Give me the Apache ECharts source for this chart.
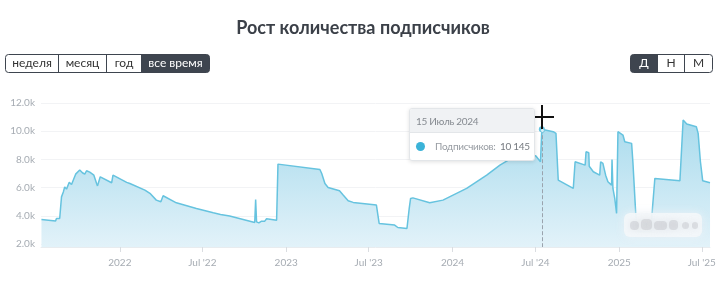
<!DOCTYPE html>
<html><head><meta charset="utf-8">
<script src="https://cdn.jsdelivr.net/npm/echarts@6/dist/echarts.min.js"></script>
<style>html,body{margin:0;padding:0;background:#fff}#c{width:726px;height:287px}</style>
</head><body><div id="c"></div>
<script>
var dates = ['2021-07-13','2021-08-13','2021-08-15','2021-08-22','2021-08-26','2021-08-30','2021-09-02','2021-09-06','2021-09-12','2021-09-17','2021-09-20','2021-09-26','2021-10-05','2021-10-11','2021-10-16','2021-10-20','2021-10-27','2021-11-05','2021-11-11','2021-11-13','2021-11-19','2021-12-14','2021-12-17','2022-01-16','2022-01-23','2022-02-25','2022-03-08','2022-03-22','2022-04-01','2022-04-06','2022-05-05','2022-06-18','2022-07-25','2022-08-10','2022-08-30','2022-10-24','2022-10-26','2022-10-28','2022-11-02','2022-11-08','2022-11-15','2022-11-19','2022-12-11','2022-12-14','2023-03-16','2023-03-20','2023-03-27','2023-04-03','2023-04-28','2023-05-06','2023-05-17','2023-05-28','2023-07-18','2023-07-24','2023-08-27','2023-09-03','2023-09-23','2023-09-28','2023-10-01','2023-10-06','2023-11-12','2023-12-11','2024-02-01','2024-03-16','2024-04-14','2024-05-21','2024-06-08','2024-07-02','2024-07-12','2024-07-15','2024-08-09','2024-08-15','2024-08-20','2024-09-22','2024-09-26','2024-10-18','2024-10-20','2024-10-26','2024-10-27','2024-11-05','2024-11-19','2024-11-21','2024-11-26','2024-12-02','2024-12-07','2024-12-15','2024-12-16','2024-12-18','2024-12-22','2024-12-26','2024-12-28','2024-12-29','2025-01-09','2025-01-13','2025-01-28','2025-01-31','2025-02-06','2025-02-10','2025-03-11','2025-03-15','2025-03-18','2025-03-20','2025-05-14','2025-05-18','2025-05-21','2025-05-29','2025-06-19','2025-06-23','2025-06-28','2025-07-03','2025-07-19'];
var subscribers = [3750,3650,3820,3820,5350,5700,6060,5900,6380,6230,6300,6960,7250,7060,6960,7200,7100,6890,6300,6130,6770,6350,6890,6380,6300,5830,5600,5120,5000,5430,4930,4530,4220,4100,3990,3540,5170,3580,3510,3630,3630,3800,3700,7670,7290,7010,6300,6020,5780,5480,5070,4960,4770,3470,3350,3180,3110,4530,5240,5280,4930,5120,5950,6890,7600,8310,8500,8250,7840,10145,9970,9850,6540,5950,7840,7600,8550,8480,7520,7130,6890,7840,7720,6890,6420,6180,8000,5950,5240,4180,4060,9970,9730,9260,9140,7720,4180,2900,2900,4650,4650,6660,6490,6490,10790,10510,10320,9850,7840,6490,6350];
var tickDates = ['2022-01-01','2022-07-01','2023-01-01','2023-07-01','2024-01-01','2024-07-01','2025-01-01','2025-07-01'];
var tickLabels = ['2022',"Jul '22",'2023',"Jul '23",'2024',"Jul '24",'2025',"Jul '25"];
var yTicks = [2000,4000,6000,8000,10000,12000];
var periodButtons = ['неделя','месяц','год','все время'];
var scaleButtons = ['Д','Н','М'];
var seriesName = 'Подписчиков';
var tipDate = '2024-07-15';
var tipLabel = '15 Июль 2024';
var xStart = '2021-07-12', xEnd = '2025-07-19';
var yMin = 1800, yMax = 12000;

var chart = echarts.init(document.getElementById('c'), null, {renderer:'canvas'});
function ts(s){ return Date.UTC(+s.slice(0,4), +s.slice(5,7)-1, +s.slice(8,10)); }
var tickTs = tickDates.map(ts);
var data = dates.map(function(d,i){ return [ts(d), subscribers[i]]; });
var tipIdx = dates.indexOf(tipDate);
var FONT = 'Lato, "Open Sans", sans-serif';

function buttonGroup(labels, x, y, widths, active){
  var els = [], cx = x, total = widths.reduce(function(a,b){return a+b;},0);
  els.push({type:'rect', shape:{x:x, y:y, width:total, height:18, r:3}, style:{fill:'#fff', stroke:'#3e454f', lineWidth:1}});
  labels.forEach(function(l,i){
    var w = widths[i];
    if (i === active) {
      var r = [0,0,0,0];
      if (i === 0) { r[0]=3; r[3]=3; }
      if (i === labels.length-1) { r[1]=3; r[2]=3; }
      els.push({type:'rect', shape:{x:cx, y:y, width:w, height:18, r:r}, style:{fill:'#3e454f'}});
    }
    if (i > 0) els.push({type:'line', shape:{x1:cx, y1:y, x2:cx, y2:y+18}, style:{stroke:'#3e454f', lineWidth:1}});
    els.push({type:'text', x:cx+w/2, y:y+9, style:{text:l, fill: i===active?'#fff':'#333', font:'12px '+FONT, align:'center', verticalAlign:'middle'}});
    cx += w;
  });
  return els;
}

var graphics = [];
graphics = graphics.concat(buttonGroup(periodButtons, 5.5, 54.5, [53,48,35,68], 3));
graphics = graphics.concat(buttonGroup(scaleButtons, 630.5, 54.5, [27,27,28], 0));
graphics.push({type:'rect', shape:{x:624, y:213, width:78, height:24, r:6}, style:{fill:'rgba(244,247,250,0.9)', shadowBlur:10, shadowColor:'rgba(236,242,247,1)'}, z:50});
[[630,221,9,9],[641,219,11,11],[654,221,13,9],[669,220,9,10],[682,222,7,7],[692,222,6,7]].forEach(function(b){
  graphics.push({type:'rect', shape:{x:b[0], y:b[1], width:b[2], height:b[3], r:4}, style:{fill:'rgba(160,160,168,0.25)', shadowBlur:8, shadowColor:'rgba(150,150,160,0.7)'}, z:51});
});
graphics.push({type:'circle', shape:{cx:542.4, cy:130.5, r:2}, style:{fill:'#d8f0f8', stroke:'#6cc5e0', lineWidth:1}, z:60});
graphics.push({type:'line', shape:{x1:531, y1:117, x2:554, y2:117}, style:{stroke:'#111', lineWidth:2}, z:100});
graphics.push({type:'line', shape:{x1:542, y1:105, x2:542, y2:129}, style:{stroke:'#111', lineWidth:2}, z:100});

chart.setOption({
  animation:false,
  title:{text:'Рост количества подписчиков', left:'center', top:14, textStyle:{fontFamily:FONT, fontSize:18, fontWeight:'bold', color:'#3b4048'}},
  grid:{left:41, right:16, top:103, bottom:40},
  tooltip:{
    trigger:'axis', alwaysShowContent:true, transitionDuration:0, padding:0,
    backgroundColor:'#fff', borderColor:'#e3e6e9', borderWidth:1,
    extraCssText:'box-shadow:0 1px 4px rgba(0,0,0,0.12);border-radius:3px;overflow:hidden;',
    position:[409,108],
    axisPointer:{type:'none'},
    formatter:function(p){
      var v = p[0].value[1];
      var s = String(v).replace(/\B(?=(\d{3})+(?!\d))/g,' ');
      return '<div style="font-family:Lato,\'Open Sans\',sans-serif;font-size:10px;letter-spacing:-0.3px;width:124px">'+
        '<div style="background:#f0f2f4;color:#868b91;padding:6px 6px 5px 6px;border-bottom:1px solid #e3e6e9;height:12px;line-height:12px">'+tipLabel+'</div>'+
        '<div style="padding:8px 4px 8px 5px;color:#979ca2;line-height:11px;white-space:nowrap"><span style="display:inline-block;width:9px;height:9px;border-radius:50%;background:#3bb3d8;vertical-align:-1px;margin-right:10px;margin-left:1px"></span>'+seriesName+':&nbsp; <span style="color:#767b81">'+s+'</span></div></div>';
    }
  },
  xAxis:{
    type:'value', min:ts(xStart), max:ts(xEnd),
    axisLine:{show:true, lineStyle:{color:'#e8ecef'}},
    axisTick:{show:true, customValues:tickTs, length:5, lineStyle:{color:'#dadde1'}},
    axisLabel:{customValues:tickTs, color:'#a6acb3', fontSize:10, fontFamily:FONT, margin:11,
      formatter:function(v){ var i = tickTs.indexOf(v); return i>=0 ? tickLabels[i] : ''; }},
    splitLine:{show:false}
  },
  yAxis:{
    type:'value', min:yMin, max:yMax,
    axisLine:{show:false}, axisTick:{show:false, customValues:yTicks},
    axisLabel:{customValues:yTicks, color:'#a6acb3', fontSize:10, fontFamily:FONT, margin:6,
      formatter:function(v){ return (v/1000).toFixed(1)+'k'; }},
    splitLine:{show:true, lineStyle:{color:'#f2f3f5'}}
  },
  series:[{
    type:'line', name:seriesName, data:data, showSymbol:false, symbol:'circle', symbolSize:4,
    lineStyle:{color:'#66c3df', width:1.5}, itemStyle:{color:'#66c3df'},
    emphasis:{disabled:true},
    areaStyle:{opacity:1, color:{type:'linear', x:0, y:0, x2:0, y2:1, colorStops:[{offset:0,color:'#a9dbed'},{offset:1,color:'#e2f2f9'}]}},
    markLine:{symbol:'none', silent:true, label:{show:false},
      lineStyle:{color:'#9aa3ad', type:'dashed', width:1},
      data:[[{coord:[ts(tipDate), subscribers[tipIdx]]},{coord:[ts(tipDate), yMin]}]]}
  }],
  graphic:graphics
});
chart.dispatchAction({type:'showTip', seriesIndex:0, dataIndex:tipIdx});
</script></body></html>
